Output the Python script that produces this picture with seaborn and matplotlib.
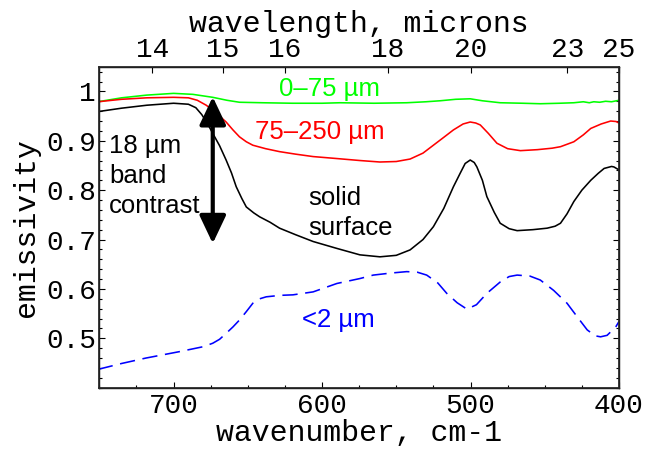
import numpy as np
import pandas as pd
import matplotlib
matplotlib.use("Agg")
import matplotlib.pyplot as plt
import seaborn as sns

# ---------------- data ----------------
black_wn = [751, 735, 718, 700, 690, 685, 681, 677, 673.6, 669, 664.6, 661, 657.8, 654, 651,
            646, 642, 635, 628.6, 618, 606, 590, 574.5, 561, 550, 540.7, 532, 525, 518, 511.5,
            507, 503.6, 500.2, 497.5, 495.7, 492, 489, 484, 480, 474, 468.6, 458, 448.4, 443,
            439.4, 435, 430.4, 425, 419, 414, 410, 405, 403.4, 400]
black_em = [0.959, 0.966, 0.972, 0.976, 0.974, 0.967, 0.953, 0.934, 0.915, 0.890, 0.861, 0.835,
            0.807, 0.783, 0.766, 0.754, 0.746, 0.735, 0.723, 0.710, 0.696, 0.682, 0.669, 0.665,
            0.668, 0.679, 0.700, 0.726, 0.763, 0.807, 0.834, 0.854, 0.861, 0.856, 0.847, 0.820,
            0.787, 0.755, 0.733, 0.722, 0.718, 0.720, 0.723, 0.727, 0.733, 0.752, 0.777, 0.800,
            0.820, 0.834, 0.844, 0.848, 0.847, 0.841]

red_wn = [751, 735, 718, 700, 690, 684, 678, 673.6, 669, 664.6, 660, 655.6, 651, 646.6, 638,
          628.6, 618, 606, 590, 574.5, 561, 550, 540.7, 532, 525, 518, 511.5, 505, 500.2, 496.5,
          493.4, 488, 482.2, 475, 466.4, 455, 445, 439.4, 430.4, 424, 419, 412, 405.6, 402, 400]
red_em = [0.979, 0.984, 0.987, 0.988, 0.987, 0.982, 0.972, 0.962, 0.950, 0.938, 0.922, 0.908,
          0.898, 0.891, 0.884, 0.878, 0.873, 0.868, 0.864, 0.860, 0.857, 0.858, 0.863, 0.875,
          0.891, 0.907, 0.922, 0.934, 0.938, 0.936, 0.932, 0.915, 0.895, 0.884, 0.880, 0.882,
          0.885, 0.888, 0.898, 0.912, 0.925, 0.934, 0.940, 0.939, 0.936]

green_wn = [751, 735, 718, 700, 687, 673.6, 664, 655.6, 640, 620, 600, 588, 565, 543, 530,
            520.5, 510, 500.2, 492, 480, 465, 453, 440, 430.4, 424, 420, 417, 413, 409, 405, 400]
green_em = [0.979, 0.987, 0.9925, 0.996, 0.994, 0.988, 0.982, 0.978, 0.977, 0.976, 0.976,
            0.977, 0.976, 0.977, 0.979, 0.981, 0.984, 0.985, 0.981, 0.977, 0.976, 0.975, 0.976,
            0.977, 0.979, 0.977, 0.979, 0.978, 0.980, 0.979, 0.982]

blue_wn = [751, 735, 718.6, 696, 680, 673.6, 669, 664.6, 660, 655.6, 651, 646.6, 642, 637.6,
           628, 619.6, 606, 590, 574.5, 565.5, 554, 543, 536, 529.5, 522, 516, 509, 502.4, 496,
           489, 480, 474, 468.6, 460, 453, 444, 435, 428, 421.4, 416, 412.4, 408, 405.6, 402, 400]
blue_em = [0.437, 0.449, 0.460, 0.473, 0.483, 0.490, 0.498, 0.510, 0.523, 0.537, 0.554, 0.571,
           0.580, 0.584, 0.587, 0.588, 0.594, 0.611, 0.621, 0.628, 0.632, 0.635, 0.634, 0.628,
           0.612, 0.591, 0.572, 0.559, 0.568, 0.591, 0.614, 0.625, 0.628, 0.626, 0.618, 0.597,
           0.571, 0.543, 0.517, 0.505, 0.503, 0.506, 0.513, 0.524, 0.534]

y_ticks = [0.5, 0.6, 0.7, 0.8, 0.9, 1.0]
y_tick_labels = ["0.5", "0.6", "0.7", "0.8", "0.9", "1"]
x_ticks = [700, 600, 500, 400]
wavelength_ticks = [14, 15, 16, 18, 20, 23, 25]

# ---------------- style ----------------
sns.set_theme(style="white")
plt.rcParams["font.family"] = ["Liberation Sans", "DejaVu Sans"]
plt.rcParams["lines.scale_dashes"] = False
MONO = ["Liberation Mono", "DejaVu Sans Mono"]
SANS = ["Liberation Sans", "DejaVu Sans"]

fig = plt.figure(figsize=(6.47, 4.51), dpi=100)
ax = fig.add_axes([0.1535, 0.1404, 0.8032, 0.7117])

series = [
    (green_wn, green_em, "#00ff00"),
    (red_wn, red_em, "#ff0000"),
    (black_wn, black_em, "#000000"),
    (blue_wn, blue_em, "#0000ff"),
]
for wn, em, col in series:
    df = pd.DataFrame({"wavenumber": wn, "emissivity": em})
    sns.lineplot(data=df, x="wavenumber", y="emissivity", ax=ax, color=col,
                 linewidth=1.15, estimator=None, sort=False)
ax.lines[-1].set_dashes((11, 5.5))

ax.set_xlim(750, 400)
ax.set_ylim(0.40, 1.05)

for sp in ax.spines.values():
    sp.set_color("black")
    sp.set_linewidth(1.0)

ax.set_xticks(x_ticks)
ax.set_xticks(np.arange(400, 751, 25), minor=True)
ax.set_yticks(y_ticks)
ax.set_yticklabels(y_tick_labels)
ax.set_yticks(np.arange(0.40, 1.051, 0.02), minor=True)
ax.tick_params(which="both", direction="in", color="black", width=0.8,
               bottom=True, left=True, right=True, top=False,
               labelsize=20, labelcolor="black")
ax.tick_params(axis="x", which="both", pad=4)
ax.tick_params(axis="y", which="both", pad=2.5)
ax.tick_params(which="major", length=4.5)
ax.tick_params(which="minor", length=2.5)
for lab in ax.get_xticklabels() + ax.get_yticklabels():
    lab.set_family(MONO)

ax.set_xlabel("wavenumber, cm-1", family=MONO, fontsize=21.5, color="black", labelpad=0)
ax.set_ylabel("emissivity", family=MONO, fontsize=21.5, color="black", labelpad=4)

# top axis: wavelength
ax2 = ax.twiny()
ax2.set_xlim(ax.get_xlim())
ax2.set_xticks([10000.0 / w for w in wavelength_ticks])
ax2.set_xticklabels([str(w) for w in wavelength_ticks])
ax2.xaxis.set_minor_locator(matplotlib.ticker.NullLocator())
ax2.tick_params(axis="x", which="both", direction="in", length=4.5, width=0.8,
                color="black", labelsize=20, labelcolor="black", pad=3)
for lab in ax2.get_xticklabels():
    lab.set_family(MONO)
ax2.set_xlabel("wavelength, microns", family=MONO, fontsize=21.5, color="black", labelpad=3)
ax2.grid(False)
ax.grid(False)

# ---------------- annotations ----------------
fs = 18.5
ax.text(595, 1.005, "0\u201375 \u00b5m", color="#00ff00", fontsize=fs, family=SANS,
        ha="center", va="center")
ax.text(601.5, 0.918, "75\u2013250 \u00b5m", color="#ff0000", fontsize=fs, family=SANS,
        ha="center", va="center")
for txt, yb in [("18 \u00b5m", 0.8745), ("band", 0.8144), ("contrast", 0.753)]:
    ax.text(743.4, yb, txt, color="black", fontsize=fs, family=SANS, ha="left", va="baseline")
for txt, yb in [("solid", 0.7694), ("surface", 0.7087)]:
    ax.text(609.5, yb, txt, color="black", fontsize=fs, family=SANS, ha="left", va="baseline")
ax.text(613.5, 0.5235, "<2 \u00b5m", color="#0000ff", fontsize=fs, family=SANS,
        ha="left", va="baseline")

ax.annotate("", xy=(673.6, 0.989), xytext=(673.6, 0.692),
            arrowprops=dict(arrowstyle="<|-|>,head_length=0.95,head_width=0.45",
                            color="black", lw=3, mutation_scale=18,
                            shrinkA=0, shrinkB=0))

fig.savefig("out.png", dpi=100)
